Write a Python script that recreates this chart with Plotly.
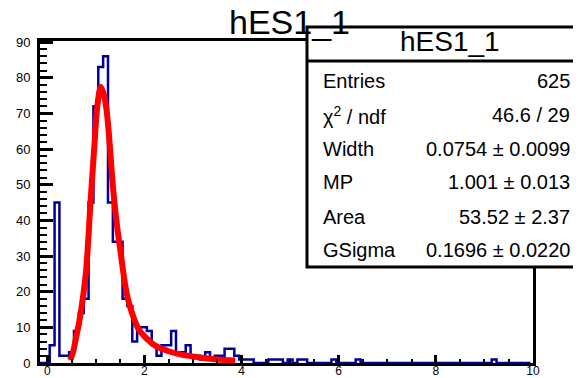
import numpy as np
import plotly.graph_objects as go

# ---------------- data ----------------
bin_low = -0.15
bin_width = 0.1
# counts for bins centred at -0.1, 0.0, 0.1, ... 9.9
counts = [
    0, 0, 5, 45, 2, 2, 3, 9, 14, 18,          # -0.1 .. 0.8
    45, 72, 83, 86, 45, 34, 34, 18, 16, 6,    # 0.9 .. 1.8
    10, 10, 9, 5, 2, 5, 5, 9, 3, 3,           # 1.9 .. 2.8
    5, 2, 2, 1, 3, 1, 2, 2, 4, 4,             # 2.9 .. 3.8
    2, 1, 1, 1, 0, 0, 0, 1, 1, 1,             # 3.9 .. 4.8
    0, 1, 0, 1, 1, 0, 0, 0, 0, 0,             # 4.9 .. 5.8
    1, 0, 0, 0, 0, 1, 0, 0, 0, 0,             # 5.9 .. 6.8
    0, 0, 0, 0, 0, 0, 0, 0, 0, 0,             # 6.9 .. 7.8
    0, 0, 0, 0, 0, 0, 0, 0, 0, 0,             # 7.9 .. 8.8
    0, 0, 0, 1, 0, 0, 0, 0, 0, 0,             # 8.9 .. 9.8
    0,                                        # 9.9
]

fit_x = [0.47, 0.53, 0.59, 0.65, 0.71, 0.80, 0.89, 0.97, 1.03, 1.10, 1.17, 1.22,
         1.27, 1.33, 1.39, 1.45, 1.51, 1.58, 1.65, 1.77, 1.88, 2.05, 2.23, 2.50,
         2.74, 3.10, 3.50, 3.87]
fit_y = [0.8, 3, 7, 11, 16, 26, 45, 61, 72, 77.5, 75, 71,
         64, 53, 44, 37, 31, 24, 18.5, 13, 9.5, 6.8, 4.8, 3.3,
         2.4, 1.6, 1.0, 0.7]

title_text = "hES1_1"
stat_labels = ["Entries", "χ<sup>2</sup> / ndf", "Width", "MP", "Area", "GSigma"]
stat_values = ["625", "46.6 / 29", "0.0754 ± 0.0099", "1.001 ± 0.013",
               "53.52 ± 2.37", "0.1696 ± 0.0220"]

x_range = [-0.15, 10.0]
y_range = [0, 90.3]

# ---------------- geometry (screen pixels) ----------------
W, H = 581, 378
PAGE_OFF = 8                      # default body margin of the html page
PL, PR, PT, PB = 40, 533, 41, 363  # plot area on screen
PW = PR - PL
PH = PB - PT
ML = PL - PAGE_OFF
MT = PT - PAGE_OFF
MR = W - ML - PW
MB = H - MT - PH


def px(x):
    return (x - PL) / PW


def py(y):
    return (PB - y) / PH


edges = bin_low + bin_width * np.arange(len(counts) + 1)
step_y = list(counts) + [counts[-1]]

FONT = "Liberation Sans, Arial, Helvetica, sans-serif"

fig = go.Figure()
fig.add_trace(go.Scatter(
    x=edges, y=step_y, mode="lines",
    line=dict(color="#000099", width=2.5, shape="hv"),
    hoverinfo="skip", showlegend=False,
))
fig.add_trace(go.Scatter(
    x=fit_x, y=fit_y, mode="lines",
    line=dict(color="#ff0000", width=6, shape="spline", smoothing=0.8),
    hoverinfo="skip", showlegend=False,
))

fig.update_layout(
    width=W, height=H,
    margin=dict(l=ML, r=MR, t=MT, b=MB, pad=0, autoexpand=False),
    paper_bgcolor="white", plot_bgcolor="white",
    font=dict(family=FONT, color="black"),
    showlegend=False,
)

fig.update_xaxes(
    range=x_range, showgrid=False, zeroline=False,
    showline=True, linecolor="black", linewidth=3, mirror=True,
    ticks="inside", ticklen=8, tickwidth=2.5, tickcolor="black",
    tick0=0, dtick=2, tickfont=dict(size=12, family=FONT),
    ticklabelstandoff=-5,
    minor=dict(ticks="inside", ticklen=4, tickwidth=2, tickcolor="black",
               dtick=0.5, tick0=0, showgrid=False),
)
fig.update_yaxes(
    range=y_range, showgrid=False, zeroline=False,
    showline=True, linecolor="black", linewidth=3, mirror=True,
    ticks="inside", ticklen=13, tickwidth=2.5, tickcolor="black",
    tick0=0, dtick=10, tickfont=dict(size=13, family=FONT),
    ticklabelstandoff=4,
    minor=dict(ticks="inside", ticklen=7, tickwidth=2, tickcolor="black",
               dtick=2, tick0=0, showgrid=False),
)

# stats box
box_l, box_r, box_t, box_b, box_sep = 307, 578, 27, 267, 61
fig.add_shape(type="rect", xref="paper", yref="paper",
              x0=px(box_l), x1=px(box_r), y0=py(box_b), y1=py(box_t),
              fillcolor="white", line=dict(color="black", width=3), layer="above")
fig.add_shape(type="line", xref="paper", yref="paper",
              x0=px(box_l), x1=px(box_r), y0=py(box_sep), y1=py(box_sep),
              line=dict(color="black", width=3), layer="above")

annotations = []
# main title
annotations.append(dict(text=title_text, xref="paper", yref="paper",
                        x=px(289), y=py(21.5), xanchor="center", yanchor="middle",
                        showarrow=False, font=dict(size=34, family=FONT, color="black")))
# header
annotations.append(dict(text=title_text, xref="paper", yref="paper",
                        x=px(450), y=py(42), xanchor="center", yanchor="middle",
                        showarrow=False, font=dict(size=28, family=FONT, color="black")))
row_mid = [81, 115, 148.5, 182, 217, 249.5]
for lab, val, ym in zip(stat_labels, stat_values, row_mid):
    annotations.append(dict(text=lab, xref="paper", yref="paper",
                            x=px(321), y=py(ym), xanchor="left", yanchor="middle",
                            showarrow=False, font=dict(size=20, family=FONT, color="black")))
    annotations.append(dict(text=val, xref="paper", yref="paper",
                            x=px(572), y=py(ym), xanchor="right", yanchor="middle",
                            showarrow=False, font=dict(size=20, family=FONT, color="black")))
fig.update_layout(annotations=annotations)

fig.write_html("out.html")
